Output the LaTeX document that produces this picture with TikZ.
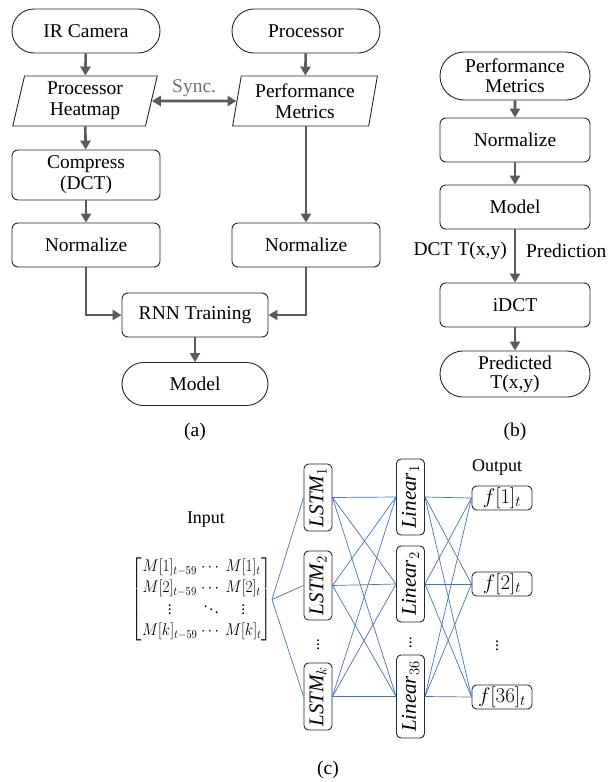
\documentclass[tikz,border=0pt]{standalone}
\usepackage{fix-cm}
\usepackage{amsmath}
\usepackage{graphicx}
\usepackage{fontspec}
\setmainfont{Liberation Serif}
\usetikzlibrary{arrows.meta,shapes.geometric,shapes.misc,calc}
\definecolor{flow}{HTML}{5A5A5A}
\definecolor{nnblue}{HTML}{4472C4}
\definecolor{syncgray}{HTML}{707070}
\begin{document}
\begin{tikzpicture}[x=1pt,y=-1pt,
  txt/.style={font=\fontsize{19.5}{21}\selectfont, align=center, inner sep=0pt},
  box/.style={txt, draw=black!85, line width=0.9pt, rounded corners=6pt,
    minimum width=148pt, minimum height=44pt},
  term/.style={txt, draw=black!85, line width=0.9pt, rounded rectangle,
    minimum width=148pt, minimum height=44pt},
  para/.style={txt, draw=black!85, line width=0.9pt, trapezium,
    trapezium left angle=79, trapezium right angle=101, trapezium stretches=true,
    minimum width=145pt, minimum height=50pt},
  flowarrow/.style={draw=flow, line width=2.6pt, -{Triangle[length=9pt,width=10pt]}},
  syncarrow/.style={draw=flow, line width=2.6pt, {Triangle[length=9pt,width=10pt]}-{Triangle[length=9pt,width=10pt]}},
  nnbox/.style={draw=black!85, line width=0.9pt, rounded corners=4.5pt, rotate=90,
    minimum height=28pt, inner sep=1.5pt, font=\fontsize{21}{22}\selectfont},
  outbox/.style={draw=black!85, line width=0.9pt, rounded corners=4.5pt,
    minimum width=60pt, minimum height=24pt, inner sep=1pt, font=\fontsize{21}{22}\selectfont},
  nn/.style={draw=nnblue, line width=0.7pt},
  lbl/.style={font=\fontsize{18}{20}\selectfont, inner sep=0pt}
]
\useasboundingbox (0,0) rectangle (611,782);

% ---------- (a) ----------
\node[term] (ir) at (86,31) {IR Camera};
\node[term] (proc) at (306,31) {Processor};
\node[para] (hm) at (85,101) {Processor\\Heatmap};
\node[para] (pm) at (305,101) {Performance\\Metrics};
\node[box, minimum height=50pt] (comp) at (86,175) {Compress\\(DCT)};
\node[box] (nl) at (86,245) {Normalize};
\node[box] (nr) at (306,245) {Normalize};
\node[box, minimum width=146pt] (rnn) at (195,315) {RNN Training};
\node[term, minimum width=146pt, minimum height=43pt] (moda) at (195,384) {Model};
\node[txt] (la) at (195,432) {(a)};

\draw[flowarrow] (ir) -- (hm);
\draw[flowarrow] (proc) -- (pm);
\draw[flowarrow] (hm) -- (comp);
\draw[flowarrow] (comp) -- (nl);
\draw[flowarrow] (pm.south -| nr.north) -- (nr.north);
\draw[syncarrow] (hm.east) -- (pm.west) node[midway, above=3pt, txt, text=syncgray] (sync) {Sync.};
\draw[flowarrow] (nl.south) |- (rnn.west);
\draw[flowarrow] (nr.south) |- (rnn.east);
\draw[flowarrow] (rnn) -- (moda);

% ---------- (b) ----------
\node[term, minimum width=150pt, minimum height=48pt, font=\fontsize{19.5}{20}\selectfont] (pmb) at (515,76) {Performance\\Metrics};
\node[box, minimum width=150pt] (nb) at (515,140) {Normalize};
\node[box, minimum width=150pt] (mb) at (515,207) {Model};
\node[box, minimum width=150pt] (idct) at (515,305) {iDCT};
\node[term, minimum width=150pt, minimum height=46pt, font=\fontsize{19.5}{19}\selectfont] (pred) at (515,374) {Predicted\\T(x,y)};
\node[txt, anchor=east] (dctl) at (507,251) {DCT T(x,y)};
\node[txt, anchor=west] (predl) at (526,251) {Prediction};
\node[txt] (lb) at (515,432) {(b)};

\draw[flowarrow] (pmb) -- (nb);
\draw[flowarrow] (nb) -- (mb);
\draw[flowarrow] (mb) -- (idct);
\draw[flowarrow] (idct) -- (pred);

% ---------- (c) ----------
\node[lbl] (inlbl) at (206,520) {Input};
\node[lbl] (outlbl) at (497,467) {Output};
\node[anchor=east, inner sep=0pt, font=\fontsize{17}{21}\selectfont] (mat) at (272,599.5)
  {\scalebox{0.9}[1]{\setlength{\arraycolsep}{2pt}$\begin{bmatrix} M[1]_{t-59} & \cdots & M[1]_t\\ M[2]_{t-59} & \cdots & M[2]_t\\ \vdots & \ddots & \vdots\\ M[k]_{t-59} & \cdots & M[k]_t \end{bmatrix}$}};

\node[nnbox, minimum width=67pt] (l1) at (318,497.5) {$\mathit{LSTM}_1$};
\node[nnbox, minimum width=69pt] (l2) at (318,585.5) {$\mathit{LSTM}_2$};
\node[nnbox, minimum width=67pt] (lk) at (318,696.5) {$\mathit{LSTM}_k$};
\node[font=\fontsize{16}{18}\selectfont] (ldots) at (318,642) {$\vdots$};

\node[nnbox, minimum width=76pt] (n1) at (410.5,497) {$\mathit{Linear}_1$};
\node[nnbox, minimum width=76pt] (n2) at (410.5,584) {$\mathit{Linear}_2$};
\node[nnbox, minimum width=83pt] (n36) at (410.5,696.5) {$\mathit{Linear}_{36}$};
\node[font=\fontsize{16}{18}\selectfont] (ndots) at (410.5,640) {$\vdots$};

\node[outbox] (o1) at (502,498) {$f[1]_t$};
\node[outbox] (o2) at (502,584) {$f[2]_t$};
\node[outbox] (o36) at (502,697) {$f[36]_t$};
\node[font=\fontsize{16}{18}\selectfont] (odots) at (497,643) {$\vdots$};

\node[txt] (lc) at (328,770) {(c)};

\foreach \b in {l1,l2,lk} \draw[nn] (mat.east) -- (\b.north);
\foreach \a in {l1,l2,lk} \foreach \b in {n1,n2,n36} \draw[nn] (\a.south) -- (\b.north);
\foreach \a in {n1,n2,n36} \foreach \b in {o1,o2,o36} \draw[nn] (\a.south) -- (\b.west);
\end{tikzpicture}
\end{document}
